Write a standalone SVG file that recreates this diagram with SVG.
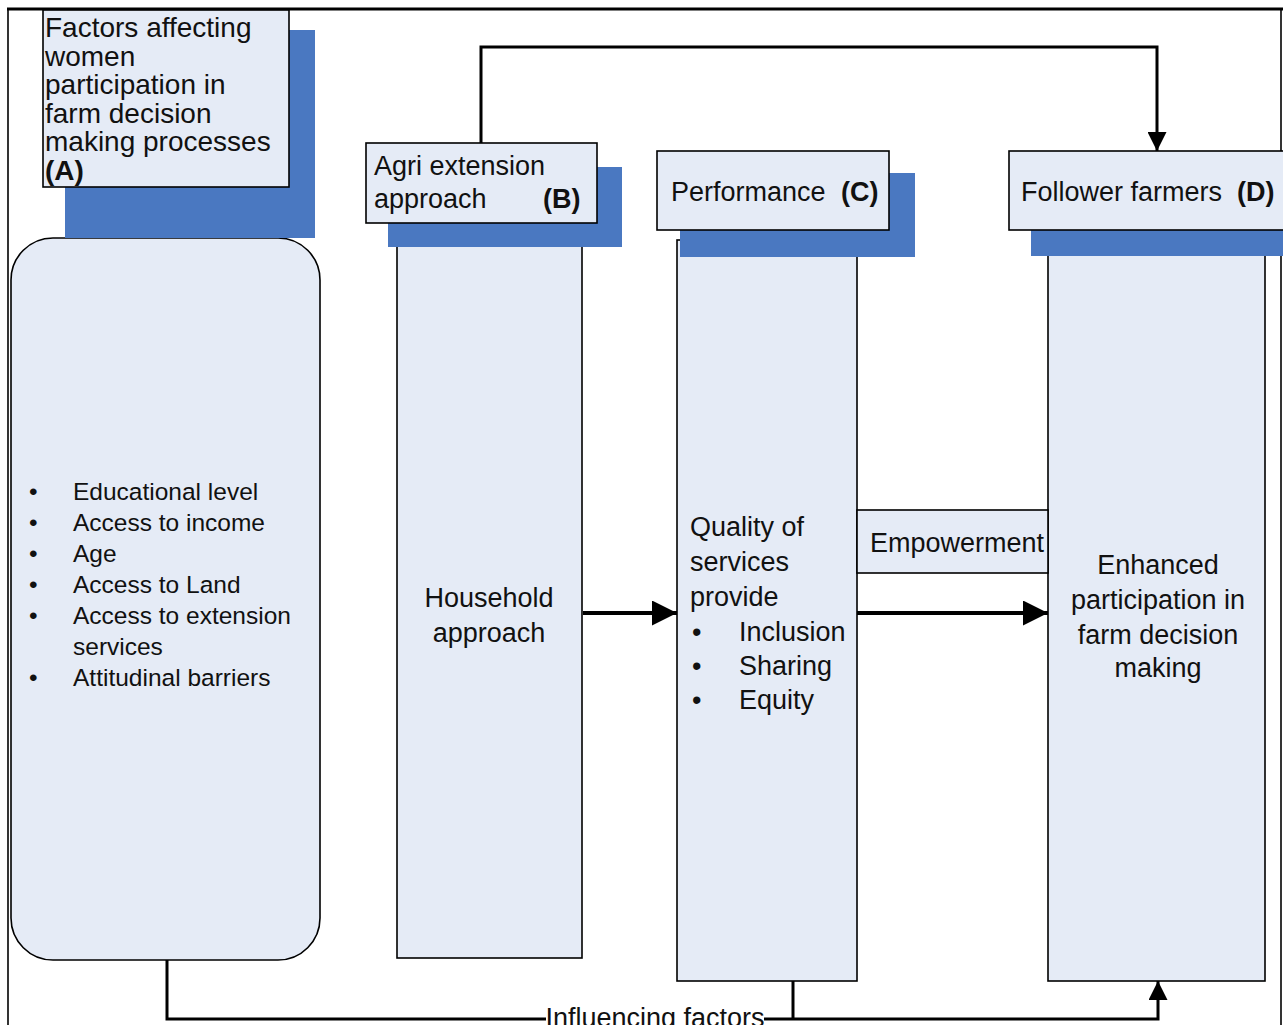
<svg xmlns="http://www.w3.org/2000/svg" width="1283" height="1025" viewBox="0 0 1283 1025">
  <style>
    text { font-family: "Liberation Sans", Arial, sans-serif; fill: #111; }
    .t { font-size: 27px; }
    .h { font-size: 28px; }
    .s { font-size: 24.5px; }
    .b { font-weight: bold; }
    .box { fill: #E5EBF6; stroke: #000; stroke-width: 1.6; }
    .shadow { fill: #4A78C1; }
    .wire { fill: none; stroke: #000; stroke-width: 3; }
    .thick { fill: none; stroke: #000; stroke-width: 4; }
    .frame { fill: none; stroke: #000; }
  </style>
  <defs>
    <!-- large head for the horizontal flow arrows -->
    <marker id="head" viewBox="0 0 10 10" refX="10" refY="5" markerUnits="userSpaceOnUse" markerWidth="29" markerHeight="25" orient="auto">
      <path d="M0,0 L10,5 L0,10 Z" fill="#000"/>
    </marker>
    <!-- slimmer head for the elbow connectors -->
    <marker id="headS" viewBox="0 0 10 10" refX="10" refY="5" markerUnits="userSpaceOnUse" markerWidth="29" markerHeight="19" orient="auto">
      <path d="M0,0 L10,5 L0,10 Z" fill="#000"/>
    </marker>
  </defs>

  <rect width="1283" height="1025" fill="#fff"/>

  <!-- outer frame -->
  <g id="frame">
    <line class="frame" x1="7" y1="9" x2="1283" y2="9" stroke-width="3"/>
    <line class="frame" x1="8" y1="9" x2="8" y2="1025" stroke-width="1.6"/>
    <line class="frame" x1="1281" y1="9" x2="1281" y2="1025" stroke-width="1.6"/>
  </g>

  <!-- column bodies -->
  <g id="factors-list">
    <rect class="box" x="11" y="238" width="309" height="722" rx="42" ry="42"/>
    <g class="s">
      <text x="29" y="500">•</text><text x="73" y="500">Educational level</text>
      <text x="29" y="531">•</text><text x="73" y="531">Access to income</text>
      <text x="29" y="562">•</text><text x="73" y="562">Age</text>
      <text x="29" y="593">•</text><text x="73" y="593">Access to Land</text>
      <text x="29" y="624">•</text><text x="73" y="624">Access to extension</text>
      <text x="73" y="655">services</text>
      <text x="29" y="686">•</text><text x="73" y="686">Attitudinal barriers</text>
    </g>
  </g>

  <g id="household-approach">
    <rect class="box" x="397" y="240" width="185" height="718"/>
    <text class="t" x="489" y="607" text-anchor="middle">Household</text>
    <text class="t" x="489" y="642" text-anchor="middle">approach</text>
  </g>

  <g id="quality-of-services">
    <rect class="box" x="677" y="240" width="180" height="741"/>
    <g class="t">
      <text x="690" y="536">Quality of</text>
      <text x="690" y="571">services</text>
      <text x="690" y="606">provide</text>
      <text x="692" y="641">•</text><text x="739" y="641">Inclusion</text>
      <text x="692" y="675">•</text><text x="739" y="675">Sharing</text>
      <text x="692" y="709">•</text><text x="739" y="709">Equity</text>
    </g>
  </g>

  <g id="enhanced-participation">
    <rect class="box" x="1048" y="240" width="217" height="741"/>
    <g class="t" text-anchor="middle">
      <text x="1158" y="574">Enhanced</text>
      <text x="1158" y="609">participation in</text>
      <text x="1158" y="644">farm decision</text>
      <text x="1158" y="677">making</text>
    </g>
  </g>

  <g id="empowerment">
    <rect class="box" x="857" y="510" width="191" height="63"/>
    <text class="t" x="870" y="552">Empowerment</text>
  </g>

  <!-- header boxes with offset blue shadow -->
  <g id="header-a">
    <rect class="shadow" x="65" y="30" width="250" height="208"/>
    <rect class="box" x="43" y="10" width="246" height="177"/>
    <g class="h">
      <text x="45" y="37">Factors affecting</text>
      <text x="45" y="65.5">women</text>
      <text x="45" y="94">participation in</text>
      <text x="45" y="122.5">farm decision</text>
      <text x="45" y="151">making processes</text>
      <text class="b" x="45" y="179.5">(A)</text>
    </g>
  </g>

  <g id="header-b">
    <rect class="shadow" x="388" y="167" width="234" height="80"/>
    <rect class="box" x="366" y="143" width="231" height="80"/>
    <text class="t" x="374" y="175">Agri extension</text>
    <text class="t" x="374" y="208">approach</text>
    <text class="t b" x="543" y="208">(B)</text>
  </g>

  <g id="header-c">
    <rect class="shadow" x="680" y="173" width="235" height="84"/>
    <rect class="box" x="657" y="151" width="232" height="79"/>
    <text class="t" x="671" y="201">Performance</text>
    <text class="t b" x="841" y="201">(C)</text>
  </g>

  <g id="header-d">
    <rect class="shadow" x="1031" y="173" width="260" height="83"/>
    <rect class="box" x="1009" y="151" width="290" height="79"/>
    <text class="t" x="1021" y="201">Follower farmers</text>
    <text class="t b" x="1237" y="201">(D)</text>
  </g>

  <!-- connectors -->
  <g id="connectors">
    <path class="wire" d="M481,143 V47 H1157 V151" marker-end="url(#headS)"/>
    <path class="thick" d="M583,613 H677" marker-end="url(#head)"/>
    <path class="thick" d="M857,613 H1048" marker-end="url(#head)"/>
    <path class="wire" d="M167,960 V1019 H546"/>
    <path class="wire" d="M764,1019 H1158 V981" marker-end="url(#headS)"/>
    <path class="wire" d="M793,981 V1019"/>
    <text class="t" x="655" y="1027" text-anchor="middle">Influencing factors</text>
  </g>
</svg>
